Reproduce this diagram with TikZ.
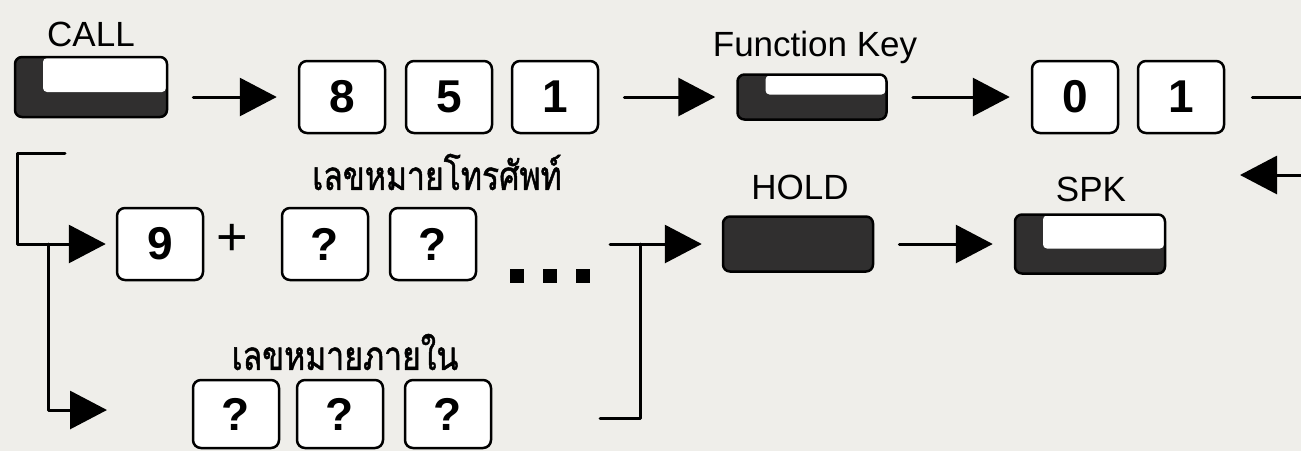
\documentclass[tikz,border=0pt]{standalone}
\usepackage{fontspec}
\setmainfont{Liberation Sans}
\newfontfamily\thaifont[Script=Thai,FakeStretch=0.8,FakeBold=1.2]{Loma}
\usetikzlibrary{arrows.meta}
\definecolor{paper}{RGB}{239,238,234}
\definecolor{keydark}{RGB}{48,47,47}
\begin{document}
\begin{tikzpicture}[x=1pt,y=-1pt,line join=round,line cap=round,
    >={Triangle[length=37pt,width=38pt]},
    numkey/.style={draw,line width=2.5pt,rounded corners=8pt,fill=white,
      minimum width=86pt,minimum height=72pt,inner sep=0pt,
      font=\fontsize{46}{46}\selectfont\bfseries},
    softkey/.style={draw,line width=2.5pt,rounded corners=7pt,fill=keydark,inner sep=0pt,
      path picture={\fill[white,rounded corners=4pt]
        ([shift={(28pt,-1pt)}]path picture bounding box.north west) rectangle
        ([shift={(-1pt,25pt)}]path picture bounding box.south east);}},
    keyname/.style={inner sep=0pt,font=\fontsize{35}{35}\selectfont},
    thainame/.style={inner sep=0pt,font=\thaifont\fontsize{40}{40}\selectfont},
    flow/.style={->,line width=3pt,shorten <=25pt,shorten >=21pt},
    wire/.style={line width=3pt}]
  \def\rowa{97}
  \def\rowb{244}
  \def\rowc{414}
  \path[fill=paper,use as bounding box] (0,0) rectangle (1301,451);
  % first row
  \node[softkey,minimum width=152pt,minimum height=60pt] (call) at (91,87) {};
  \node[keyname] (calltxt) at (91,34) {CALL};
  \node[numkey] (k8) at (342,\rowa) {8};
  \node[numkey] (k5) at (449,\rowa) {5};
  \node[numkey] (k1) at (555,\rowa) {1};
  \node[softkey,minimum width=149pt,minimum height=45pt] (fkey) at (812,\rowa) {};
  \node[keyname] (fkeytxt) at (815,47) {Function Key};
  \node[numkey] (k0) at (1075,\rowa) {0};
  \node[numkey] (k1b) at (1181,\rowa) {1};
  \path (1301,\rowa) coordinate (outR)
        (1301,175) coordinate (inR)
        (1240,175) coordinate (inL);
  \draw[flow] (call.east|-k8) -- (k8);
  \draw[flow] (k1) -- (fkey);
  \draw[flow] (fkey) -- (k0);
  \draw[wire,shorten <=27pt] (k1b) -- (outR);
  \draw[wire,->] (inR) -- (inL);
  % second row
  \node[numkey] (k9) at (160,\rowb) {9};
  \node[inner sep=0pt,font=\fontsize{54}{54}\selectfont] (plus) at (232,240) {+};
  \node[numkey] (q1) at (325,\rowb) {?};
  \node[numkey] (q2) at (433,\rowb) {?};
  \node[thainame] (teltxt) at (437,172) {เลขหมายโทรศัพท์};
  \foreach \x in {517,550,583}
    \fill (\x-7,269) rectangle ++(14,14);
  \node[softkey,minimum width=150pt,minimum height=55pt,path picture={}] (hold) at (798,\rowb) {};
  \node[keyname] (holdtxt) at (800,187) {HOLD};
  \node[softkey,minimum width=150pt,minimum height=59pt] (spk) at (1090,\rowb) {};
  \node[keyname] (spktxt) at (1091,189) {SPK};
  \draw[flow] (hold) -- (spk);
  % third row
  \node[numkey,minimum height=68pt] (r1) at (236,\rowc) {?};
  \node[numkey,minimum height=68pt] (r2) at (340,\rowc) {?};
  \node[numkey,minimum height=68pt] (r3) at (448,\rowc) {?};
  \node[thainame] (exttxt) at (345,352) {เลขหมายภายใน};
  % brackets
  \path (65,153) coordinate (lTop)
        (17,153) coordinate (lCorner)
        (48,\rowb) coordinate (lSplit)
        (107,410) coordinate (lEnd)
        (610,\rowb) coordinate (rStub)
        (640,\rowb) coordinate (rSplit)
        (600,418) coordinate (rEnd);
  \draw[wire,->,shorten >=10pt] (lTop) -- (lCorner) |- (k9);
  \draw[wire,->] (lSplit) |- (lEnd);
  \draw[wire,->,shorten >=20pt] (rStub) -- (hold);
  \draw[wire] (rSplit) |- (rEnd);
\end{tikzpicture}
\end{document}
